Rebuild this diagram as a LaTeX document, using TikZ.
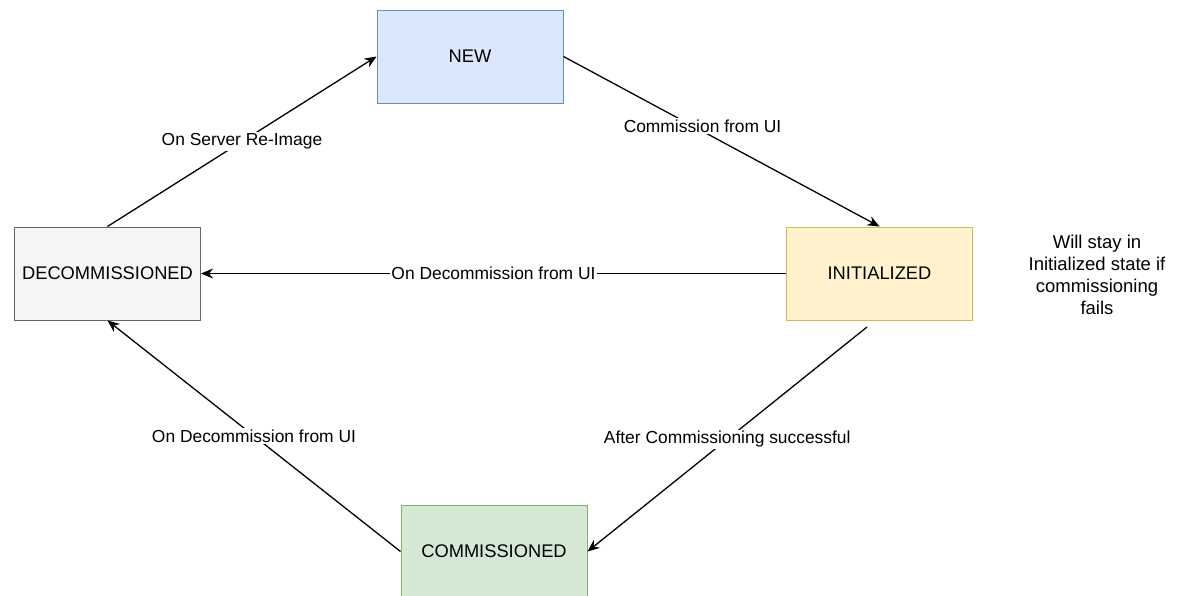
\documentclass[tikz,border=0pt]{standalone}
\usepackage{fontspec}
\setmainfont{Liberation Sans}
\usetikzlibrary{arrows.meta}
\definecolor{newfill}{HTML}{DAE8FC}\definecolor{newdraw}{HTML}{6C8EBF}
\definecolor{decfill}{HTML}{F5F5F5}\definecolor{decdraw}{HTML}{666666}
\definecolor{inifill}{HTML}{FFF2CC}\definecolor{inidraw}{HTML}{D6B656}
\definecolor{comfill}{HTML}{D5E8D4}\definecolor{comdraw}{HTML}{82B366}
\tikzset{
  state/.style={draw, line width=1pt, minimum width=186pt, minimum height=93pt, inner sep=0pt,
    font=\fontsize{18.3}{22}\selectfont},
  conn/.style={line width=1.3pt, -{Stealth[length=12pt,width=10pt]}},
  lbl/.style={fill=white, inner sep=1.5pt, font=\fontsize{17.4}{22}\selectfont},
}
\begin{document}
\begin{tikzpicture}[x=1pt,y=-1pt]
\useasboundingbox (0,0) rectangle (1181,595);
\begin{scope}
\clip (0,0) rectangle (1181,595);
\node[state, fill=newfill, draw=newdraw] (new) at (470,56.5) {NEW};
\node[state, fill=decfill, draw=decdraw] (dec) at (107.5,273.5) {DECOMMISSIONED};
\node[state, fill=inifill, draw=inidraw] (ini) at (879.5,273.5) {INITIALIZED};
\node[state, fill=comfill, draw=comdraw] (com) at (494,551.5) {COMMISSIONED};
\end{scope}
\node[align=center, font=\fontsize{18.5}{22}\selectfont] (note) at (1097,275) {Will stay in\\Initialized state if\\commissioning\\fails};
\coordinate (inis) at (867,327);
\draw[conn] (dec.north) -- node[lbl, pos=0.5] {On Server Re-Image} (new.west);
\draw[conn] (new.east) -- node[lbl, pos=0.44, yshift=5pt] {Commission from UI} (ini.north);
\draw[conn] (ini.west) -- node[lbl, pos=0.5] {On Decommission from UI} (dec.east);
\draw[conn] (inis) -- node[lbl, pos=0.5] {After Commissioning successful} (com.east);
\draw[conn] (com.west) -- node[lbl, pos=0.5] {On Decommission from UI} (dec.south);
\end{tikzpicture}
\end{document}
